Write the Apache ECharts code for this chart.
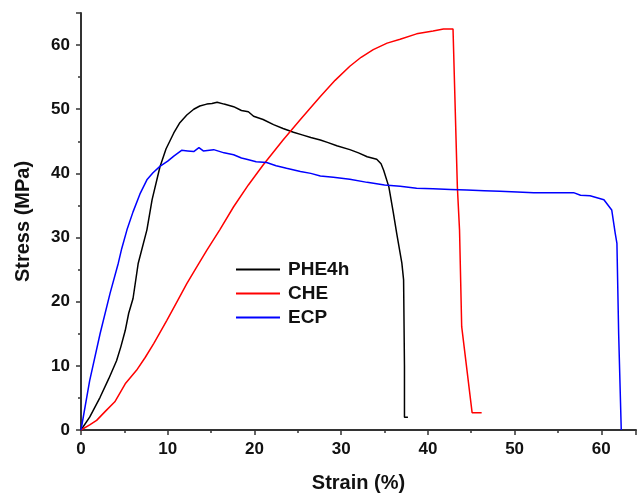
<!DOCTYPE html>
<html>
<head>
<meta charset="utf-8">
<script src="https://cdn.jsdelivr.net/npm/echarts@6/dist/echarts.min.js"></script>
<style>html,body{margin:0;padding:0;background:#fff}#c{width:637px;height:493px}</style>
</head>
<body>
<div id="c"></div>
<script>
const seriesNames = ['PHE4h', 'CHE', 'ECP'];
const xTicks = [0, 10, 20, 30, 40, 50, 60];
const yTicks = [0, 10, 20, 30, 40, 50, 60];

const phe4h = [[0,0],[1.0,2.0],[2.2,5.1],[3.2,8],[4.1,10.8],[4.6,13],[5.1,15.5],[5.5,18.2],[6.0,20.5],[6.6,26],[7.6,31.2],[8.2,35.9],[9.1,41],[9.8,43.8],[10.7,46.3],[11.4,47.9],[12.2,49.1],[13.0,50.0],[13.7,50.5],[14.5,50.8],[15.1,50.9],[15.7,51.1],[16.5,50.8],[17.6,50.4],[18.5,49.8],[19.3,49.6],[19.9,48.9],[21,48.4],[22.2,47.6],[23.3,47.0],[24.5,46.4],[25.5,46.0],[26.5,45.6],[27.6,45.2],[28.5,44.8],[29.5,44.3],[31,43.7],[32,43.2],[33,42.6],[34.1,42.2],[34.6,41.5],[34.9,40.5],[35.5,37.9],[36.0,34],[36.4,30.7],[37.0,26],[37.2,23.4],[37.3,10],[37.3,2.0],[37.7,2.0]];

const che = [[0,0],[1.0,0.8],[1.8,1.5],[2.8,2.9],[3.9,4.4],[4.5,5.8],[5.1,7.2],[6.4,9.3],[7.4,11.3],[8.4,13.5],[9.9,17.1],[11,19.8],[12.2,22.8],[13.3,25.3],[14.5,28],[16,31.2],[17.6,34.8],[19.3,38.2],[21,41.3],[23.3,45.2],[25.3,48.4],[27.6,52.0],[29.3,54.5],[31.0,56.7],[32.3,58.1],[33.7,59.3],[35.3,60.3],[36.8,60.9],[38.7,61.75],[40.6,62.2],[41.8,62.5],[42.9,62.5],[43.4,37.9],[43.65,31.2],[43.9,16.1],[45.1,2.7],[46.2,2.7]];

const ecp = [[0,0],[1.0,7.7],[2.2,15.0],[3.35,21.3],[4.3,26],[4.7,28.3],[5.3,31.2],[6.0,34.0],[6.8,36.8],[7.6,39.0],[8.3,40.1],[9.1,41.1],[10,41.9],[10.7,42.7],[11.6,43.6],[12.3,43.5],[13,43.4],[13.6,44.0],[14.1,43.5],[15.3,43.7],[16.5,43.2],[17.6,42.9],[18.5,42.4],[19.1,42.2],[20.2,41.8],[21.4,41.7],[22.5,41.2],[23.7,40.8],[25.3,40.3],[26.5,40.0],[27.6,39.6],[29.1,39.4],[31,39.1],[33,38.6],[35,38.2],[36.8,38.0],[38.7,37.7],[40.6,37.6],[42.6,37.5],[44.5,37.4],[46.5,37.3],[48.3,37.2],[50.3,37.1],[52.2,37.0],[54.5,37.0],[56.8,37.0],[57.6,36.6],[58.7,36.5],[60.3,35.9],[61.2,34.3],[61.6,30.7],[61.8,29.1],[62.0,15],[62.3,0]];

const colors = ['#000000', '#ff0000', '#0000ff'];
const FONT = '"Liberation Sans", Arial, sans-serif';

const chart = echarts.init(document.getElementById('c'), null, {renderer: 'canvas'});
const axisCommon = {
  type: 'value',
  splitLine: {show: false},
  axisLine: {show: true, lineStyle: {color: '#333', width: 2}},
  axisTick: {show: true, inside: false, length: 5, lineStyle: {color: '#333', width: 1.5}},
  minorTick: {show: true, splitNumber: 2, length: 3, lineStyle: {color: '#333', width: 1.5}},
  axisLabel: {color: '#111', fontFamily: FONT, fontWeight: 'bold', fontSize: 17, margin: 11, showMaxLabel: false},
  nameLocation: 'middle',
  nameTextStyle: {color: '#111', fontFamily: FONT, fontWeight: 'bold', fontSize: 20}
};
chart.setOption({
  animation: false,
  backgroundColor: '#fff',
  grid: {left: 81, right: 1, top: 13, bottom: 63, containLabel: false, outerBoundsMode: 'none'},
  xAxis: Object.assign({}, axisCommon, {
    min: xTicks[0], max: 64, interval: xTicks[1] - xTicks[0],
    name: 'Strain (%)', nameGap: 43
  }),
  yAxis: Object.assign({}, axisCommon, {
    min: yTicks[0], max: 65, interval: yTicks[1] - yTicks[0],
    name: 'Stress (MPa)', nameGap: 48
  }),
  legend: {
    orient: 'vertical', left: 231, top: 255,
    icon: 'rect', itemWidth: 44, itemHeight: 2, itemGap: 5,
    textStyle: {color: '#111', fontFamily: FONT, fontWeight: 'bold', fontSize: 19, padding: [0,0,0,3]},
    data: seriesNames
  },
  series: [phe4h, che, ecp].map((d, i) => ({
    name: seriesNames[i], type: 'line', data: d,
    symbol: 'none', showSymbol: false, smooth: false,
    lineStyle: {color: colors[i], width: 1.5},
    itemStyle: {color: colors[i]}
  }))
});
</script>
</body>
</html>
